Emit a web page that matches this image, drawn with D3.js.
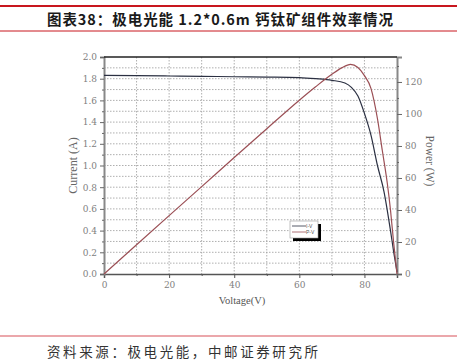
<!DOCTYPE html>
<html>
<head>
<meta charset="utf-8">
<script src="https://cdn.jsdelivr.net/npm/d3@7"></script>
<style>
  body { margin: 0; background: #fff; }
  svg { display: block; }
</style>
</head>
<body>
<div id="chart"></div>
<script>
// values
const ivVoltage = [0, 10, 20, 30, 40, 50, 60, 65, 70, 74, 76, 78, 80, 82, 84, 86, 88, 89, 90]
const ivCurrent = [1.83, 1.828, 1.825, 1.822, 1.818, 1.815, 1.81, 1.80, 1.785, 1.76, 1.72, 1.64, 1.48, 1.28, 1.00, 0.76, 0.40, 0.20, 0.02]
const pvVoltage = [0, 10, 20, 30, 40, 50, 60, 65, 70, 73, 75.7, 78, 80, 82, 84, 85.5, 87, 88, 89, 90]
const pvPower = [0, 18.3, 36.5, 54.6, 72.8, 90.8, 108.6, 117, 124.8, 128.8, 131, 129, 124, 116, 97, 77, 57, 40, 19, 0]

const xTicks = [0, 20, 40, 60, 80]
const currentTicks = [0, 0.2, 0.4, 0.6, 0.8, 1.0, 1.2, 1.4, 1.6, 1.8, 2.0]
const powerTicks = [0, 20, 40, 60, 80, 100, 120]
const legendLabels = ["I-V", "P-V"]

const width = 457
const height = 364
const plot = { left: 104, right: 397, top: 57, bottom: 274 }

let ivColor = "#2b3042",
    pvColor = "#9b4f55",
    gridColor = "#9a9a9a",
    labelColor = "#808080"

const svg = d3.select("#chart")
    .append("svg")
    .attr("width", width)
    .attr("height", height)

// header / footer
svg.append("line").attr("x1", 0).attr("x2", width).attr("y1", 6).attr("y2", 6)
    .attr("stroke", "#c8161e").attr("stroke-width", 2)
svg.append("line").attr("x1", 0).attr("x2", width).attr("y1", 31).attr("y2", 31)
    .attr("stroke", "#c8161e").attr("stroke-width", 1)
svg.append("text")
    .attr("x", 47).attr("y", 25)
    .attr("textLength", 346).attr("lengthAdjust", "spacing")
    .attr("font-family", "Noto Sans CJK SC").attr("font-weight", "bold")
    .attr("font-size", 14.5).attr("fill", "#1a1a1a")
    .text("图表38：极电光能 1.2*0.6m 钙钛矿组件效率情况")

svg.append("line").attr("x1", 0).attr("x2", width).attr("y1", 336).attr("y2", 336)
    .attr("stroke", "#e58a8f").attr("stroke-width", 1.5)
svg.append("text")
    .attr("x", 47).attr("y", 357)
    .attr("textLength", 271).attr("lengthAdjust", "spacing")
    .attr("font-family", "Noto Sans CJK SC")
    .attr("font-size", 13.5).attr("fill", "#333")
    .text("资料来源：极电光能，中邮证券研究所")

// scales
let xScale = d3.scaleLinear().domain([0, 90]).range([plot.left, plot.right])
let yCurrent = d3.scaleLinear().domain([0, 2]).range([plot.bottom, plot.top])
let yPower = d3.scaleLinear().domain([0, 135.6]).range([plot.bottom, plot.top])

// grid
const grid = svg.append("g").attr("id", "grid")
grid.selectAll(".hgrid")
    .data(d3.range(1, 20).map(d => d / 10))
    .enter().append("line")
    .attr("class", "hgrid")
    .attr("x1", plot.left).attr("x2", plot.right)
    .attr("y1", d => yCurrent(d)).attr("y2", d => yCurrent(d))
    .attr("stroke", gridColor).attr("stroke-width", 0.8)
    .attr("stroke-dasharray", "1.5,1.5")
grid.selectAll(".vgrid")
    .data(d3.range(10, 90, 10))
    .enter().append("line")
    .attr("class", "vgrid")
    .attr("y1", plot.top).attr("y2", plot.bottom)
    .attr("x1", d => xScale(d)).attr("x2", d => xScale(d))
    .attr("stroke", gridColor).attr("stroke-width", 0.8)
    .attr("stroke-dasharray", "1.5,1.5")

// axes
const tickFont = g => g.selectAll("text")
    .attr("font-family", "DejaVu Serif")
    .attr("font-size", 9)
    .attr("fill", labelColor)

let xAxis = d3.axisBottom(xScale).tickValues(xTicks).tickSize(4).tickPadding(4).tickFormat(d3.format("d"))
let xMinor = d3.axisBottom(xScale).tickValues(d3.range(10, 90, 20)).tickSize(2).tickFormat("")
let leftAxis = d3.axisLeft(yCurrent).tickValues(currentTicks).tickSize(4).tickPadding(3).tickFormat(d3.format(".1f"))
let leftMinor = d3.axisLeft(yCurrent).tickValues(d3.range(1, 20, 2).map(d => d / 10)).tickSize(2).tickFormat("")
let rightAxis = d3.axisRight(yPower).tickValues(powerTicks).tickSize(5).tickPadding(3).tickFormat(d3.format("d"))
let rightMinor = d3.axisRight(yPower).tickValues(d3.range(10, 135, 20)).tickSize(2).tickFormat("")

svg.append("g").attr("id", "x-axis")
    .attr("transform", `translate(0,${plot.bottom})`)
    .call(xAxis).call(tickFont)
    .call(g => g.select(".domain").attr("stroke", "#555").attr("stroke-width", 1.5))
    .call(g => g.selectAll(".tick line").attr("stroke", "#555"))
svg.append("g").attr("transform", `translate(0,${plot.bottom})`)
    .call(xMinor)
    .call(g => g.select(".domain").remove())
    .call(g => g.selectAll(".tick line").attr("stroke", "#555"))

svg.append("g").attr("id", "y-axis")
    .attr("transform", `translate(${plot.left},0)`)
    .call(leftAxis).call(tickFont)
    .call(g => g.select(".domain").attr("stroke", "#888").attr("stroke-width", 2))
    .call(g => g.selectAll(".tick line").attr("stroke", "#666"))
svg.append("g").attr("transform", `translate(${plot.left},0)`)
    .call(leftMinor)
    .call(g => g.select(".domain").remove())
    .call(g => g.selectAll(".tick line").attr("stroke", "#666"))

svg.append("g").attr("id", "y2-axis")
    .attr("transform", `translate(${plot.right},0)`)
    .call(rightAxis).call(tickFont)
    .call(g => g.select(".domain").attr("stroke", "#888").attr("stroke-width", 2))
    .call(g => g.selectAll(".tick line").attr("stroke", "#666"))
svg.append("g").attr("transform", `translate(${plot.right},0)`)
    .call(rightMinor)
    .call(g => g.select(".domain").remove())
    .call(g => g.selectAll(".tick line").attr("stroke", "#666"))

// top border
svg.append("line")
    .attr("x1", plot.left).attr("x2", plot.right)
    .attr("y1", plot.top).attr("y2", plot.top)
    .attr("stroke", "#222").attr("stroke-width", 1.5)

// axis titles
svg.append("text")
    .attr("transform", `translate(77,${(plot.top + plot.bottom) / 2}) rotate(-90)`)
    .attr("text-anchor", "middle")
    .attr("font-family", "Liberation Serif").attr("font-size", 12)
    .attr("fill", "#666")
    .text("Current (A)")
svg.append("text")
    .attr("transform", `translate(426,161) rotate(90)`)
    .attr("text-anchor", "middle")
    .attr("font-family", "Liberation Serif").attr("font-size", 11.5)
    .attr("fill", "#666")
    .text("Power (W)")
svg.append("text")
    .attr("x", 242).attr("y", 304)
    .attr("text-anchor", "middle")
    .attr("font-family", "Liberation Serif").attr("font-size", 10.5)
    .attr("fill", "#555")
    .text("Voltage(V)")

// curves
let ivLine = d3.line()
    .x((d, i) => xScale(ivVoltage[i]))
    .y(d => yCurrent(d))
    .curve(d3.curveMonotoneX)
let pvLine = d3.line()
    .x((d, i) => xScale(pvVoltage[i]))
    .y(d => yPower(d))
    .curve(d3.curveMonotoneX)

svg.append("path").datum(ivCurrent)
    .attr("d", ivLine)
    .attr("fill", "none").attr("stroke", ivColor).attr("stroke-width", 1.2)
svg.append("path").datum(pvPower)
    .attr("d", pvLine)
    .attr("fill", "none").attr("stroke", pvColor).attr("stroke-width", 1.2)

// legend
const legend = svg.append("g").attr("id", "legend")
    .attr("transform", "translate(290,221)")
legend.append("rect")
    .attr("x", 3).attr("y", 3).attr("width", 28).attr("height", 17)
    .attr("fill", "#000")
legend.append("rect")
    .attr("width", 28).attr("height", 17)
    .attr("fill", "#fff").attr("stroke", "#999").attr("stroke-width", 0.6)
legend.selectAll(".legend-label")
    .data(legendLabels)
    .enter().append("g")
    .attr("class", "legend-label")
    .attr("transform", (d, i) => `translate(0,${5 + i * 6})`)
    .each(function (d, i) {
        d3.select(this).append("line")
            .attr("x1", 2).attr("x2", 16).attr("y1", 0).attr("y2", 0)
            .attr("stroke", i == 0 ? ivColor : pvColor).attr("stroke-width", 0.8)
        d3.select(this).append("text")
            .attr("x", 16).attr("y", 2)
            .attr("font-family", "Liberation Sans").attr("font-size", 5)
            .attr("fill", "#555")
            .text(d)
    })
</script>
</body>
</html>
